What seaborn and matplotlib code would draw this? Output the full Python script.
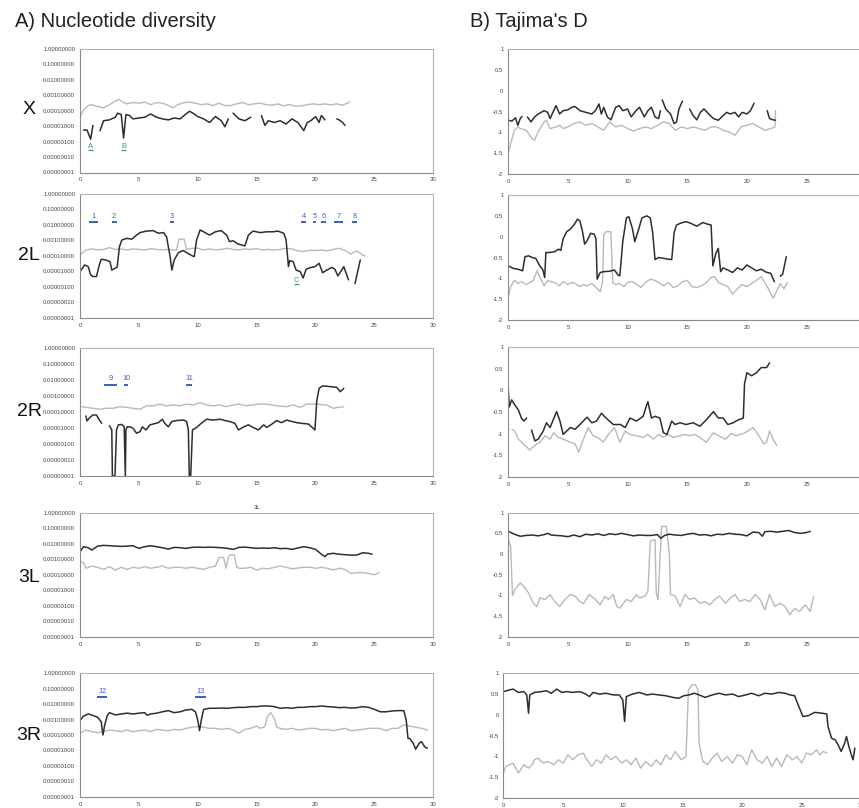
import numpy as np
import pandas as pd
import matplotlib
matplotlib.use('Agg')
import matplotlib.pyplot as plt
from matplotlib.ticker import NullLocator
import seaborn as sns

sns.set_style('white')
plt.rcParams['font.family'] = ['Liberation Sans', 'DejaVu Sans']

chroms = ['X', '2L', '2R', '3L', '3R']

#########   Nucleotide diversity (None = gap in the line) ############
# dark line
piX_dark_pos = [0.3, 0.6, 0.9, 1.1, 1.4, 1.7, 2.0, 2.5, 3.0, 3.2, 3.5, 3.7, 3.9, 4.2, 4.5, 5.0, 5.5, 6.0, 6.5, 7.0,
                7.5, 8.0, 8.5, 9.0, 9.3, 9.7, 10.0, 10.5, 11.0, 11.5, 12.0, 12.3, 12.6, 12.8, 13.0, 13.5, 14.0, 14.5,
                15.0, 15.4, 15.7, 16.0, 16.5, 17.0, 17.5, 18.0, 18.5, 19.0, 19.3, 19.6, 20.0, 20.3, 20.5, 20.8, 21.3,
                21.8, 22.0, 22.3, 22.5]
piX_dark = [5.5e-6, 5.5e-6, 1.4e-6, 1.1e-5, None, 5e-6, 2.2e-5, 2.5e-5, 3.7e-5, 6.8e-5, 5.5e-5, 1.7e-6, 5.5e-5, 4.8e-5,
            2.9e-5, 3.3e-5, 3.7e-5, 6e-5, 3.7e-5, 2.9e-5, 2.5e-5, 3.3e-5, 2.9e-5, 6e-5, 9e-5, 6e-5, 4.1e-5, 2.9e-5,
            1.7e-5, 4.1e-5, 2.2e-5, 9e-6, 2.9e-5, None, 6.8e-5, 2.9e-5, 2.2e-5, 3.7e-5, None, 4.8e-5, 1.1e-5, 2.2e-5,
            1.7e-5, 2.2e-5, 1.35e-5, 2.9e-5, 1.7e-5, 5e-6, 1.7e-5, 2.2e-5, 4.1e-5, 1.7e-5, 4.8e-5, 2.5e-5, None,
            2.9e-5, 2.5e-5, 1.7e-5, 1.1e-5]
# light line
piX_light_pos = [0, 0.3, 0.7, 1.0, 1.5, 2.0, 2.5, 3.0, 3.3, 3.6, 4.0, 4.5, 5.0, 5.5, 6.0, 6.5, 7.0, 7.5, 7.9, 8.3, 8.8,
                 9.3, 9.8, 10.3, 10.8, 11.3, 11.8, 12.3, 12.8, 13.3, 13.8, 14.3, 14.8, 15.3, 15.8, 16.3, 16.8, 17.3,
                 17.8, 18.3, 18.8, 19.3, 19.8, 20.3, 20.8, 21.3, 21.8, 22.3, 22.9]
piX_light = [3.7e-5, 1.1e-4, 2.1e-4, 2.4e-4, 1.8e-4, 1.5e-4, 2.35e-4, 4.1e-4, 5.2e-4, 3.5e-4, 2.7e-4, 3.3e-4, 3e-4,
             3.5e-4, 2.4e-4, 3.3e-4, 3e-4, 2.1e-4, 1.5e-4, 2.4e-4, 3.2e-4, 3.5e-4, 3e-4, 2.4e-4, 2.7e-4, 2.1e-4, 3e-4,
             2.1e-4, 2.1e-4, 2.7e-4, 3.3e-4, 2.4e-4, 2.7e-4, 3e-4, 2.4e-4, 2.2e-4, 2.7e-4, 2e-4, 2.4e-4, 1.9e-4,
             2e-4, 2.4e-4, 2.7e-4, 2.4e-4, 2.7e-4, 2.35e-4, 2.7e-4, 2.2e-4, 3.5e-4]

pi2L_dark_pos = [0.0, 0.4, 0.7, 0.9, 1.1, 1.4, 1.6, 1.8, 2.2, 2.55, 2.7, 2.95, 3.15, 3.35, 3.55, 3.95, 4.4, 4.8, 5.1,
                 5.65, 6.2, 6.65, 7.1, 7.35, 7.65, 7.8, 8.0, 8.35, 8.75, 9.2, 9.55, 9.7, 9.9, 10.2, 10.5, 11.0, 11.5,
                 12.0, 12.45, 12.7, 13.0, 13.4, 14.0, 14.3, 14.7, 15.3, 15.85, 16.4, 16.8, 17.3, 17.5, 17.7, 17.8,
                 18.1, 18.35, 18.7, 18.95, 19.2, 19.5, 19.95, 20.3, 20.6, 20.95, 21.4, 21.65, 21.9, 22.4, 22.8, 23.1,
                 23.35, 23.8]
pi2L_dark = [9.5e-6, 2.6e-5, 2e-5, 6e-6, 4.6e-6, 4.6e-6, 2e-5, 6e-5, 5.4e-5, 4.2e-5, 1.2e-5, 1.55e-5, 1.8e-5, 3.9e-4,
             1.05e-3, 1.35e-3, 1.2e-3, 2.2e-3, 3.2e-3, 4e-3, 4.3e-3, 2.9e-3, 3.2e-3, 1.7e-3, 8.9e-5, 1.2e-5, 5.4e-5,
             1.6e-4, 2.2e-4, 1.4e-4, 9.8e-5, 8.9e-5, 1.05e-3, 4.7e-3, 3.6e-3, 2.2e-3, 3.6e-3, 4.3e-3, 2.2e-3, 8.3e-4,
             9.5e-4, 5.9e-4, 4.4e-4, 2.2e-3, 4e-3, 3.2e-3, 3.6e-3, 3.6e-3, 4e-3, 2.9e-3, 1.05e-3, 2e-5, 4.9e-5,
             4.2e-5, 1.2e-5, 9.5e-6, 3.7e-6, 1.35e-5, 1.7e-5, 2e-5, 3.3e-5, 8.1e-6, 1.2e-5, 1.8e-5, 1.35e-5, 5e-6,
             2e-5, 2.8e-6, None, 1.6e-6, 5.4e-5]
pi2L_light_pos = [0.0, 0.5, 1.0, 1.5, 2.0, 2.5, 3.0, 3.5, 4.0, 4.5, 5.0, 5.5, 6.0, 6.5, 7.0, 7.5, 8.0, 8.2, 8.4, 8.85,
                  9.05, 9.5, 10.0, 10.5, 11.0, 11.5, 12.0, 12.5, 13.0, 13.5, 14.0, 14.5, 15.0, 15.5, 16.0, 16.5, 17.0,
                  17.5, 18.0, 18.5, 19.0, 19.5, 20.0, 20.5, 21.0, 21.5, 22.0, 22.5, 23.0, 23.5, 24.0, 24.2]
pi2L_light = [1.15e-4, 2.4e-4, 2.8e-4, 2.4e-4, 2.6e-4, 3.4e-4, 2.6e-4, 2.8e-4, 2.4e-4, 2.8e-4, 2.6e-4, 2.4e-4, 2.9e-4,
              2.6e-4, 2.4e-4, 2.6e-4, 2.4e-4, 2.4e-4, 1.2e-3, 1.2e-3, 2.6e-4, 3.1e-4, 3.1e-4, 2.4e-4, 2.8e-4, 2.4e-4,
              2.6e-4, 3.1e-4, 2.6e-4, 2.4e-4, 2.8e-4, 2.6e-4, 2.9e-4, 2.4e-4, 2.6e-4, 2.4e-4, 2.6e-4, 3.1e-4, 2.8e-4,
              2.1e-4, 1.9e-4, 2.3e-4, 2.2e-4, 2.4e-4, 2.1e-4, 2.6e-4, 3.1e-4, 2.2e-4, 1.3e-4, 2.1e-4, 1.15e-4, 9.8e-5]

pi2R_dark_pos = [0.5, 0.6, 0.85, 1.1, 1.4, 1.7, 1.85, 2.2, 2.5, 2.7, 2.75, 2.97, 3.1, 3.25, 3.55, 3.75, 3.85, 3.9, 4.0,
                 4.25, 4.5, 4.8, 5.1, 5.3, 5.6, 5.95, 6.2, 6.65, 7.0, 7.2, 7.5, 7.8, 8.2, 8.8, 9.05, 9.2, 9.28, 9.4,
                 9.55, 9.9, 10.3, 10.75, 11.3, 11.9, 12.3, 12.7, 13.15, 13.45, 13.9, 14.3, 14.7, 15.15, 15.6, 15.85,
                 16.3, 16.7, 17.1, 17.55, 18.0, 18.4, 18.8, 19.4, 19.95, 20.1, 20.3, 20.6, 21.2, 21.8, 22.1, 22.4]
pi2R_dark = [5.8e-5, 2.8e-5, 4.8e-5, 6.6e-5, 6.6e-5, 2.8e-5, 2e-5, None, 1.4e-5, 7.7e-6, 1e-8, 1e-8, 7.7e-6, 1.6e-5,
             1.7e-5, 1.2e-5, 1e-8, 7.7e-6, 1.2e-5, 1.2e-5, 9.8e-6, 4.8e-6, 6e-6, 1.2e-5, 7.7e-6, 1.6e-5, 1.8e-5,
             2.2e-5, 3.6e-5, 2e-5, 1.2e-5, 2.6e-5, 3e-5, 3.2e-5, 2.6e-5, 7.7e-6, 1e-8, 1e-8, 7.7e-6, 1.1e-5, 2e-5,
             3.6e-5, 3.2e-5, 3.6e-5, 3e-5, 2.6e-5, 2e-5, 7.7e-6, 1.2e-5, 1.6e-5, 1.1e-5, 7.7e-6, 1.6e-5, 1.1e-5,
             1.8e-5, 3e-5, 2.2e-5, 3.2e-5, 2.6e-5, 2.2e-5, 2e-5, 1.8e-5, 7.7e-6, 4.6e-4, 3.1e-3, 4.4e-3, 4e-3,
             3.6e-3, 1.9e-3, 3.1e-3]
pi2R_light_pos = [0.15, 0.55, 1.1, 1.7, 2.25, 2.8, 3.4, 3.95, 4.5, 5.1, 5.65, 6.2, 6.8, 7.35, 7.9, 8.5, 9.05, 9.6, 10.2,
                  10.75, 11.3, 11.9, 12.4, 13.0, 13.5, 14.1, 14.6, 15.2, 15.85, 16.7, 17.55, 18.1, 18.7, 19.25, 19.95,
                  20.95, 21.5, 21.9, 22.4]
pi2R_light = [2.2e-4, 2e-4, 1.75e-4, 1.5e-4, 1.75e-4, 1.75e-4, 2.2e-4, 2e-4, 1.75e-4, 1.5e-4, 2.5e-4, 2.5e-4, 3.2e-4,
              2.5e-4, 2.8e-4, 2.5e-4, 3.2e-4, 2.8e-4, 4e-4, 2.8e-4, 2.5e-4, 2.8e-4, 2.2e-4, 2.8e-4, 3.2e-4, 2.5e-4,
              2.8e-4, 3.2e-4, 3.2e-4, 2.5e-4, 2.2e-4, 2.8e-4, 2e-4, 3.2e-4, 3.2e-4, 2.8e-4, 1.75e-4, 2e-4, 2.2e-4]

pi3L_dark_pos = [0, 0.3, 0.7, 1.0, 1.5, 2.0, 2.5, 3.0, 3.5, 4.0, 4.5, 5.0, 5.5, 6.0, 6.5, 7.0, 7.5, 8.0, 8.5, 9.0, 9.5,
                 10.0, 10.5, 11.0, 11.5, 12.0, 12.5, 13.0, 13.5, 14.0, 14.5, 15.0, 15.5, 16.0, 16.5, 17.0, 17.5,
                 18.0, 18.5, 19.0, 19.5, 20.0, 20.5, 20.8, 21.0, 21.5, 22.0, 22.5, 23.0, 23.5, 24.0, 24.5, 24.8]
pi3L_dark = [3e-3, 6.4e-3, 5.5e-3, 3.9e-3, 7e-3, 7.8e-3, 7.4e-3, 7e-3, 6.7e-3, 7e-3, 7.4e-3, 5e-3, 6.4e-3, 7.4e-3,
             6.4e-3, 5.5e-3, 4.5e-3, 5.8e-3, 5.5e-3, 5e-3, 5.8e-3, 6e-3, 5.8e-3, 6e-3, 5.8e-3, 5.5e-3, 5e-3, 4.3e-3,
             5.8e-3, 6e-3, 5.5e-3, 5e-3, 5.3e-3, 5e-3, 5.5e-3, 4.8e-3, 5e-3, 4.3e-3, 5.3e-3, 6.4e-3, 5.5e-3, 4.3e-3,
             2.1e-3, 1.45e-3, 2.1e-3, 2.4e-3, 2.1e-3, 1.95e-3, 1.85e-3, 1.85e-3, 2.6e-3, 2.4e-3, 2.1e-3]
pi3L_light_pos = [0, 0.3, 0.5, 1.0, 1.5, 2.0, 2.5, 3.0, 3.5, 4.0, 4.5, 5.0, 5.5, 6.0, 6.5, 7.0, 7.5, 8.0, 8.5, 9.0,
                  9.5, 10.0, 10.5, 11.0, 11.5, 11.8, 12.2, 12.4, 12.6, 12.8, 13.1, 13.3, 13.5, 14.0, 14.5, 15.0, 15.5,
                  16.0, 16.5, 17.0, 17.5, 18.0, 18.5, 19.0, 19.5, 20.0, 20.5, 21.0, 21.5, 22.0, 22.5, 23.0, 23.5,
                  24.0, 24.5, 25.0, 25.4]
pi3L_light = [6.9e-4, 5.9e-4, 2.6e-4, 3.6e-4, 3e-4, 2.2e-4, 3.3e-4, 2e-4, 3e-4, 2.2e-4, 3e-4, 2.6e-4, 3.3e-4, 2.6e-4,
              3e-4, 3.6e-4, 2.6e-4, 3e-4, 3e-4, 2.6e-4, 3e-4, 2.6e-4, 2.2e-4, 3e-4, 3.6e-4, 1.3e-3, 1.3e-3, 2.6e-4,
              1.45e-3, 1.95e-3, 1.85e-3, 3.3e-4, 2.6e-4, 2.6e-4, 3e-4, 2e-4, 2.6e-4, 2.4e-4, 3e-4, 3.6e-4, 3e-4,
              2.4e-4, 2.7e-4, 3e-4, 3e-4, 2.6e-4, 3e-4, 2.6e-4, 2e-4, 2.6e-4, 2.2e-4, 1.2e-4, 1.35e-4, 1.35e-4,
              1.2e-4, 1e-4, 1.35e-4]

pi3R_dark_pos = [0, 0.3, 0.7, 1.0, 1.5, 1.8, 1.95, 2.1, 2.3, 2.5, 3.0, 3.5, 4.0, 4.5, 5.0, 5.5, 5.7, 6.0, 6.5, 7.0, 7.5,
                 8.0, 8.5, 9.0, 9.5, 9.8, 10.0, 10.15, 10.3, 10.5, 11.0, 11.5, 12.0, 12.5, 13.0, 13.5, 14.0, 14.5,
                 15.0, 15.5, 16.0, 16.5, 17.0, 17.5, 18.0, 18.5, 19.0, 19.5, 20.0, 20.5, 21.0, 21.5, 22.0, 22.5, 23.0,
                 23.5, 24.0, 24.5, 25.0, 25.5, 26.0, 26.5, 27.0, 27.5, 27.7, 27.85, 28.0, 28.3, 28.5, 28.8, 29.0,
                 29.3, 29.5]
pi3R_dark = [8.5e-4, 1.7e-3, 2.3e-3, 2e-3, 1.4e-3, 7.3e-4, 1e-4, 4.5e-4, 1.7e-3, 2.8e-3, 2e-3, 2.3e-3, 2.6e-3, 2.3e-3,
             2.6e-3, 2.8e-3, 1.9e-3, 2.3e-3, 2.6e-3, 3.2e-3, 3.8e-3, 2.8e-3, 3.2e-3, 4.2e-3, 4.6e-3, 3.2e-3, 9.3e-4,
             1.9e-4, 9.3e-4, 4.6e-3, 5.4e-3, 5.4e-3, 5.6e-3, 5.4e-3, 5.9e-3, 6.2e-3, 6.2e-3, 6.9e-3, 6.9e-3, 7.6e-3,
             7.6e-3, 6.9e-3, 5.4e-3, 5.9e-3, 5.4e-3, 6.2e-3, 6.2e-3, 6.9e-3, 6.9e-3, 7.6e-3, 6.9e-3, 6.6e-3, 5.9e-3,
             6.2e-3, 5.6e-3, 5.9e-3, 6.9e-3, 6.2e-3, 4.6e-3, 3.2e-3, 3.2e-3, 3.6e-3, 3.8e-3, 3.8e-3, 9.3e-4, 6e-5,
             6e-5, 2.9e-5, 1.2e-5, 2.9e-5, 3.7e-5, 1.6e-5, 1.4e-5]
pi3R_light_pos = [0, 0.5, 1.0, 1.5, 2.0, 2.5, 3.0, 3.5, 4.0, 4.5, 5.0, 5.5, 6.0, 6.5, 7.0, 7.5, 8.0, 8.5, 9.0, 9.5,
                  10.0, 10.5, 11.0, 11.5, 12.0, 12.5, 13.0, 13.5, 14.0, 14.5, 15.0, 15.3, 15.7, 15.9, 16.2, 16.5,
                  16.7, 17.0, 17.5, 18.0, 18.5, 19.0, 19.5, 20.0, 20.5, 21.0, 21.5, 22.0, 22.5, 23.0, 23.5, 24.0,
                  24.5, 25.0, 25.5, 26.0, 26.5, 27.0, 27.5, 28.0, 28.5, 29.0, 29.5]
pi3R_light = [1.3e-4, 2.1e-4, 1.65e-4, 1.4e-4, 1.65e-4, 2.1e-4, 1.9e-4, 1.65e-4, 2.1e-4, 1.65e-4, 1.9e-4, 2.1e-4,
              1.65e-4, 2.3e-4, 2.1e-4, 1.9e-4, 2.3e-4, 2.1e-4, 2.7e-4, 3.2e-4, 3.5e-4, 3.2e-4, 2.7e-4, 2.7e-4, 2.3e-4,
              2.7e-4, 2.1e-4, 1.3e-4, 2.3e-4, 2.7e-4, 3.8e-4, 2.7e-4, 3.5e-4, 1.5e-3, 2.8e-3, 1.2e-3, 3.2e-4, 2.7e-4,
              2.3e-4, 2.7e-4, 2.1e-4, 2.3e-4, 2.7e-4, 2.7e-4, 2.1e-4, 2.3e-4, 1.9e-4, 2.3e-4, 2.7e-4, 1.9e-4, 2.1e-4,
              2.3e-4, 2.7e-4, 2.7e-4, 2.7e-4, 1.9e-4, 2.7e-4, 2.7e-4, 4.5e-4, 3.8e-4, 3.2e-4, 2.7e-4, 2.1e-4]

#########   Tajima's D ############
tdX_dark_pos = [0, 0.3, 0.6, 0.8, 1.0, 1.15, 1.4, 1.6, 1.9, 2.2, 2.5, 3.0, 3.3, 3.5, 3.8, 4.0, 4.3, 4.6, 5.0, 5.3, 5.6,
                6.0, 6.5, 7.0, 7.3, 7.6, 7.8, 8.0, 8.3, 8.6, 9.0, 9.3, 9.6, 10.0, 10.3, 10.7, 11.0, 11.4, 11.7, 12.0,
                12.3, 12.6, 12.75, 12.8, 12.9, 13.2, 13.6, 13.9, 14.1, 14.3, 14.6, 14.9, 15.2, 15.5, 15.8, 16.1, 16.4,
                16.8, 17.2, 17.6, 18.0, 18.3, 18.6, 19.0, 19.3, 19.6, 20.0, 20.3, 20.6, 21.1, 21.7, 21.9, 22.2, 22.4]
tdX_dark = [-0.71, -0.73, -0.65, -0.83, -0.67, -0.62, None, -0.63, -0.75, -0.63, -0.56, -0.48, -0.52, -0.67, -0.48,
            -0.36, -0.56, -0.48, -0.46, -0.40, -0.38, -0.48, -0.52, -0.56, -0.48, -0.32, -0.56, -0.40, -0.63, -0.70,
            -0.40, -0.36, -0.48, -0.44, -0.63, -0.48, -0.40, -0.63, -0.48, -0.40, -0.63, -0.67, -0.48, None, -0.22,
            -0.44, -0.56, -0.79, -0.75, -0.44, -0.25, None, -0.44, -0.60, -0.70, -0.52, -0.44, -0.56, -0.67, -0.71,
            -0.60, -0.52, -0.56, -0.52, -0.63, -0.52, -0.56, -0.48, -0.30, None, -0.48, -0.67, -0.70, -0.71]
tdX_light_pos = [0, 0.2, 0.5, 0.8, 1.0, 1.5, 2.0, 2.2, 2.5, 3.0, 3.2, 3.5, 4.0, 4.3, 4.6, 5.0, 5.5, 6.0, 6.5, 7.0, 7.5,
                 8.0, 8.5, 9.0, 9.5, 10.0, 10.5, 11.0, 11.5, 12.0, 12.5, 13.0, 13.5, 14.0, 14.5, 15.0, 15.5, 16.0,
                 16.5, 17.0, 17.5, 18.0, 18.5, 19.0, 19.5, 20.0, 20.5, 21.0, 21.5, 22.0, 22.35, 22.4]
tdX_light = [-1.51, -1.27, -0.95, -0.87, -0.91, -0.95, -1.15, -1.19, -0.99, -0.75, -0.71, -0.91, -0.87, -0.83, -0.91,
             -0.87, -0.79, -0.75, -0.83, -0.79, -0.87, -0.95, -0.75, -0.87, -0.83, -0.91, -0.97, -0.91, -0.87, -0.91,
             -0.83, -0.75, -0.79, -0.95, -0.87, -0.91, -0.87, -0.91, -0.95, -0.87, -0.87, -0.95, -0.99, -1.07, -0.87,
             -0.83, -0.79, -0.87, -0.95, -0.91, -0.87, -0.48]

td2L_dark_pos = [0, 0.4, 0.8, 1.2, 1.4, 1.7, 2.0, 2.3, 2.6, 2.9, 3.05, 3.15, 3.5, 3.9, 4.2, 4.4, 4.6, 4.9, 5.2, 5.5,
                 5.8, 6.0, 6.2, 6.4, 6.6, 6.9, 7.2, 7.35, 7.45, 7.7, 8.0, 8.5, 8.9, 9.2, 9.35, 9.6, 9.9, 10.1, 10.4,
                 10.6, 10.9, 11.2, 11.6, 11.9, 12.1, 12.3, 12.6, 13.0, 13.4, 13.7, 13.9, 14.1, 14.5, 14.9, 15.3, 15.8,
                 16.3, 16.7, 17.0, 17.15, 17.4, 17.6, 17.8, 18.0, 18.4, 18.8, 19.2, 19.6, 20.0, 20.4, 20.8, 21.2, 21.6,
                 22.0, 22.3, 22.55, 22.8, 23.0, 23.3]
td2L_dark = [-0.70, -0.76, -0.78, -0.82, -0.48, -0.46, -0.50, -0.52, -0.68, -0.80, -0.98, -0.38, -0.38, -0.36, -0.30,
             -0.33, -0.05, 0.12, 0.18, 0.28, 0.42, 0.38, 0.15, -0.18, -0.10, 0.08, 0.06, -0.05, -1.02, -0.86, -0.84,
             -0.83, -0.80, -0.92, -0.94, -0.10, 0.45, 0.48, 0.20, -0.12, 0.15, 0.45, 0.50, 0.45, 0.10, -0.55, -0.50,
             -0.52, -0.54, -0.55, 0.10, 0.28, 0.33, 0.36, 0.32, 0.25, 0.34, 0.30, 0.28, -0.70, -0.40, -0.28, -0.84,
             -0.75, -0.80, -0.86, -0.75, -0.80, -0.68, -0.75, -0.82, -0.78, -0.85, -0.88, -1.08, None, -0.95, -0.90,
             -0.48]
td2L_light_pos = [0, 0.2, 0.5, 0.8, 1.1, 1.5, 1.8, 2.1, 2.4, 2.7, 3.0, 3.3, 3.6, 4.0, 4.3, 4.6, 5.0, 5.3, 5.6, 6.0, 6.3,
                  6.6, 7.0, 7.3, 7.7, 7.9, 8.0, 8.2, 8.6, 8.75, 9.0, 9.3, 9.7, 10.0, 10.4, 10.8, 11.1, 11.5, 11.9,
                  12.3, 12.7, 13.0, 13.4, 13.8, 14.2, 14.6, 15.0, 15.4, 15.8, 16.2, 16.6, 17.0, 17.3, 17.6, 18.0,
                  18.4, 18.8, 19.2, 19.6, 20.0, 20.4, 20.8, 21.2, 21.5, 21.9, 22.2, 22.5, 22.8, 23.1, 23.4]
td2L_light = [-1.46, -1.20, -1.05, -1.12, -1.08, -1.15, -1.10, -1.05, -0.82, -1.00, -1.18, -1.05, -1.08, -1.12, -1.18,
              -1.08, -1.15, -1.10, -1.12, -1.20, -1.15, -1.18, -1.12, -1.20, -1.32, -1.10, 0.05, 0.12, 0.12, -1.10,
              -1.15, -1.12, -1.20, -1.10, -1.08, -1.15, -1.22, -1.10, -1.02, -1.05, -1.12, -1.18, -1.10, -1.22, -1.18,
              -1.08, -1.05, -1.20, -1.22, -1.18, -1.10, -0.98, -0.96, -1.10, -1.15, -1.20, -1.38, -1.25, -1.15, -1.20,
              -1.12, -1.05, -0.96, -1.10, -1.30, -1.48, -1.30, -1.12, -1.25, -1.10]

td2R_dark_pos = [0, 0.08, 0.28, 0.56, 0.84, 1.1, 1.3, 1.54, 1.75, 1.95, 2.23, 2.5, 2.93, 3.2, 3.5, 4.05, 4.33, 4.6, 5.2,
                 5.6, 6.0, 6.6, 7.0, 7.4, 7.8, 8.2, 8.8, 9.4, 9.8, 10.2, 10.75, 11.3, 11.6, 11.7, 12.0, 12.3, 12.7,
                 13.0, 13.3, 13.7, 13.97, 14.4, 14.9, 15.5, 16.06, 16.6, 17.2, 17.6, 18.0, 18.4, 18.85, 19.3, 19.7,
                 19.8, 20.0, 20.4, 20.8, 21.2, 21.65, 21.9]
td2R_dark = [0.04, -0.38, -0.22, -0.34, -0.45, -0.64, -0.71, -0.64, None, -0.92, -1.17, -1.13, -0.94, -0.75, -0.86,
             -0.49, -0.71, -1.02, -0.86, -0.90, -0.79, -0.62, -0.75, -0.71, -0.53, -0.64, -0.79, -0.79, -0.86, -0.64,
             -0.71, -0.60, -0.34, -0.26, -0.64, -0.60, -0.64, -0.98, -1.02, -0.71, -0.79, -0.75, -0.79, -0.75, -0.83,
             -0.68, -0.49, -0.64, -0.64, -0.79, -0.75, -0.68, -0.64, 0.15, 0.41, 0.34, 0.41, 0.53, 0.53, 0.64]
td2R_light_pos = [0.3, 0.55, 0.84, 1.26, 1.8, 2.2, 2.65, 3.07, 3.5, 3.8, 4.2, 4.6, 5.2, 5.6, 5.9, 6.3, 6.7, 7.1, 7.5,
                  7.96, 8.5, 8.9, 9.36, 9.8, 10.2, 10.75, 11.3, 11.7, 12.15, 12.6, 13.0, 13.4, 13.8, 14.4, 14.8, 15.2,
                  15.6, 16.06, 16.6, 17.2, 17.6, 18.2, 18.7, 19.1, 19.7, 20.1, 20.5, 20.95, 21.4, 21.65, 21.9, 22.2,
                  22.5]
td2R_light = [-0.90, -0.94, -1.13, -1.24, -1.38, -1.28, -1.20, -1.05, -1.13, -0.98, -1.09, -1.13, -1.20, -1.24, -1.43,
              -1.13, -0.86, -1.05, -1.09, -1.20, -0.98, -0.86, -1.20, -0.94, -1.02, -1.05, -1.09, -1.02, -1.13, -1.02,
              -1.09, -1.02, -1.09, -1.05, -1.02, -1.05, -1.02, -1.09, -1.20, -0.98, -1.05, -1.13, -1.00, -1.05, -1.00,
              -0.94, -0.86, -1.02, -1.24, -1.20, -0.94, -1.13, -1.28]

td3L_dark_pos = [0, 0.5, 1.0, 1.5, 2.0, 2.5, 3.0, 3.3, 3.6, 4.0, 4.5, 5.0, 5.5, 6.0, 6.5, 7.0, 7.5, 8.0, 8.5, 9.0, 9.5,
                 10.0, 10.5, 11.0, 11.5, 12.0, 12.5, 12.8, 13.1, 13.5, 14.0, 14.5, 15.0, 15.5, 16.0, 16.5, 17.0, 17.5,
                 18.0, 18.5, 19.0, 19.5, 20.0, 20.5, 21.0, 21.3, 21.5, 22.0, 22.5, 23.0, 23.5, 24.0, 24.5, 25.0, 25.3]
td3L_dark = [0.55, 0.48, 0.43, 0.45, 0.46, 0.44, 0.47, 0.50, 0.46, 0.45, 0.44, 0.42, 0.46, 0.42, 0.48, 0.46, 0.49,
             0.45, 0.49, 0.47, 0.50, 0.47, 0.44, 0.46, 0.45, 0.45, 0.47, 0.38, 0.45, 0.48, 0.46, 0.45, 0.48, 0.50,
             0.46, 0.47, 0.44, 0.48, 0.47, 0.50, 0.48, 0.47, 0.44, 0.53, 0.52, 0.43, 0.54, 0.55, 0.53, 0.55, 0.57,
             0.52, 0.50, 0.52, 0.55]
td3L_light_pos = [0, 0.2, 0.35, 0.55, 1.0, 1.25, 1.7, 2.1, 2.4, 2.65, 3.07, 3.5, 3.9, 4.3, 4.75, 5.2, 5.6, 6.0, 6.3, 6.8,
                  7.3, 7.7, 8.1, 8.4, 8.8, 9.1, 9.36, 9.9, 10.3, 10.75, 11.0, 11.45, 11.7, 11.9, 12.3, 12.4, 12.55,
                  12.85, 13.25, 13.5, 13.6, 14.0, 14.4, 14.8, 15.2, 15.6, 16.06, 16.5, 16.9, 17.3, 17.7, 18.2, 18.6,
                  19.0, 19.4, 19.8, 20.25, 20.7, 21.1, 21.5, 21.9, 22.35, 22.8, 23.2, 23.6, 24.0, 24.4, 24.9, 25.3,
                  25.6]
td3L_light = [0.36, 0.18, -1.0, -0.86, -0.70, -0.77, -0.94, -1.19, -1.27, -1.06, -1.10, -0.98, -1.15, -1.27, -1.10,
              -0.98, -1.02, -1.15, -1.20, -0.98, -1.10, -1.23, -1.02, -1.10, -0.98, -1.27, -1.31, -1.10, -1.15, -0.98,
              -1.06, -1.02, -0.90, 0.31, 0.35, -0.94, -1.10, 0.67, 0.67, 0.0, -0.98, -1.02, -1.27, -0.98, -1.10, -1.06,
              -1.19, -1.15, -1.23, -1.10, -1.02, -1.19, -1.06, -0.98, -1.15, -1.10, -1.15, -0.98, -1.10, -1.35, -0.98,
              -1.27, -1.19, -1.27, -1.47, -1.31, -1.39, -1.23, -1.39, -1.02]

td3R_dark_pos = [0, 0.5, 0.8, 1.25, 1.7, 1.95, 2.1, 2.2, 2.6, 3.2, 3.6, 4.0, 4.45, 4.9, 5.3, 5.8, 6.4, 6.9, 7.2, 7.5,
                 8.05, 8.6, 9.2, 9.7, 10.0, 10.15, 10.3, 10.8, 11.4, 12.0, 12.5, 13.0, 13.6, 14.2, 14.7, 15.1, 15.55,
                 16.0, 16.4, 16.9, 17.5, 18.05, 18.6, 19.2, 19.7, 20.3, 20.8, 21.4, 21.9, 22.5, 23.05, 23.6, 24.0,
                 24.4, 24.7, 25.1, 25.55, 25.8, 26.1, 26.7, 27.1, 27.2, 27.5, 27.8, 28.05, 28.3, 28.6, 28.75, 28.95,
                 29.2, 29.3, 29.45]
td3R_dark = [0.56, 0.60, 0.62, 0.54, 0.56, 0.48, 0.04, 0.48, 0.54, 0.56, 0.58, 0.52, 0.62, 0.54, 0.56, 0.54, 0.56,
             0.50, 0.44, 0.54, 0.50, 0.52, 0.48, 0.48, 0.36, -0.16, 0.44, 0.50, 0.54, 0.48, 0.50, 0.48, 0.46, 0.42,
             0.40, 0.46, 0.48, 0.52, 0.48, 0.42, 0.48, 0.52, 0.48, 0.50, 0.44, 0.48, 0.52, 0.46, 0.52, 0.50, 0.54,
             0.52, 0.48, 0.46, 0.24, -0.04, -0.02, 0.02, 0.06, 0.04, 0.02, -0.28, -0.56, -0.60, -0.72, -0.88, -0.68,
             -0.52, -0.76, -1.0, -1.08, -0.80]
td3R_light_pos = [0, 0.2, 0.5, 0.8, 1.25, 1.7, 2.1, 2.4, 2.6, 2.9, 3.3, 3.75, 4.2, 4.6, 5.0, 5.4, 5.8, 6.25, 6.7, 6.9,
                  7.4, 7.8, 8.2, 8.6, 9.0, 9.4, 9.9, 10.3, 10.7, 11.1, 11.5, 11.9, 12.4, 12.8, 13.2, 13.6, 14.0, 14.4,
                  14.9, 15.3, 15.5, 15.8, 16.1, 16.3, 16.4, 16.7, 17.1, 17.5, 17.9, 18.3, 18.75, 19.2, 19.6, 20.0,
                  20.4, 20.8, 21.25, 21.7, 22.1, 22.5, 22.9, 23.3, 23.75, 24.2, 24.6, 25.0, 25.4, 25.8, 26.25, 26.5,
                  26.8, 27.1]
td3R_light = [-1.40, -1.24, -1.20, -1.16, -1.40, -1.20, -1.28, -1.20, -1.08, -1.04, -1.16, -1.12, -1.20, -1.08, -1.16,
              -0.96, -1.08, -0.96, -0.92, -1.04, -1.24, -1.08, -1.16, -0.96, -1.08, -1.00, -1.16, -1.08, -1.20, -1.04,
              -1.28, -1.12, -1.24, -1.08, -1.20, -0.96, -1.08, -0.88, -1.08, -1.00, 0.60, 0.72, 0.72, 0.60, -0.68,
              -1.12, -1.20, -1.04, -0.92, -1.12, -1.00, -1.16, -0.96, -1.00, -1.20, -0.84, -1.08, -1.16, -1.00, -1.24,
              -1.04, -1.24, -0.96, -1.08, -1.00, -1.16, -0.92, -0.96, -0.84, -0.96, -0.88, -0.92]

# region marks (blue numbers with bars) and green letters on the diversity panels
region_names = {'2L': ['1', '2', '3', '4', '5', '6', '7', '8'], '2R': ['9', '10', '11'], '3R': ['12', '13']}
region_start = {'2L': [0.8, 2.7, 7.65, 18.75, 19.75, 20.45, 21.6, 23.1], '2R': [2.07, 3.75, 9.0], '3R': [1.47, 9.8]}
region_end = {'2L': [1.55, 3.1, 8.0, 19.2, 20.05, 20.9, 22.3, 23.5], '2R': [3.1, 4.1, 9.55], '3R': [2.3, 10.7]}
letter_names = {'X': ['A', 'B'], '2L': ['C']}
letter_pos = {'X': [0.9, 3.7], '2L': [18.4]}

pi_pos = {'X': (piX_dark_pos, piX_light_pos), '2L': (pi2L_dark_pos, pi2L_light_pos),
          '2R': (pi2R_dark_pos, pi2R_light_pos), '3L': (pi3L_dark_pos, pi3L_light_pos),
          '3R': (pi3R_dark_pos, pi3R_light_pos)}
pi_val = {'X': (piX_dark, piX_light), '2L': (pi2L_dark, pi2L_light), '2R': (pi2R_dark, pi2R_light),
          '3L': (pi3L_dark, pi3L_light), '3R': (pi3R_dark, pi3R_light)}
td_pos = {'X': (tdX_dark_pos, tdX_light_pos), '2L': (td2L_dark_pos, td2L_light_pos),
          '2R': (td2R_dark_pos, td2R_light_pos), '3L': (td3L_dark_pos, td3L_light_pos),
          '3R': (td3R_dark_pos, td3R_light_pos)}
td_val = {'X': (tdX_dark, tdX_light), '2L': (td2L_dark, td2L_light), '2R': (td2R_dark, td2R_light),
          '3L': (td3L_dark, td3L_light), '3R': (td3R_dark, td3R_light)}


def segments(pos, val):
    df = pd.DataFrame({'pos': pos, 'val': pd.array(val, dtype='Float64')}).astype(float)
    df['seg'] = df['val'].isna().cumsum()
    return df.dropna()


dark = '#2e2e2e'
light = '#b9b9b9'
blue = '#3d5fc4'
green = '#3f9a55'

W, H = 859, 808
fig = plt.figure(figsize=(W / 100, H / 100), dpi=100)

# plot-area pixel boxes (top, bottom) per row
left_rows = [(48.6, 172.5), (194, 317.7), (348.3, 476), (512.7, 636.7), (673.3, 796.7)]
right_rows = [(49, 174), (195, 320), (347.3, 476.7), (512.7, 636.7), (673.3, 798)]
right_x0 = [508.3, 508.3, 508.3, 508.3, 503.5]
label_y = [109, 256, 412, 577, 735]


def style_axis(ax):
    for side in ['left', 'bottom']:
        ax.spines[side].set_color('#8a8a8a')
        ax.spines[side].set_linewidth(0.8)
    for side in ['top', 'right']:
        ax.spines[side].set_color('#b4b4b4')
        ax.spines[side].set_linewidth(0.8)
    ax.tick_params(axis='both', which='major', labelsize=4.3, length=2, width=0.5, color='#8a8a8a',
                   labelcolor='#444444', pad=1.5, direction='out')
    ax.set_xlabel('')
    ax.set_ylabel('')
    ax.set_xlim(0, 30)
    ax.set_xticks([0, 5, 10, 15, 20, 25, 30])


for i, chrom in enumerate(chroms):
    # ---- A) nucleotide diversity
    top, bot = left_rows[i]
    axl = fig.add_axes([80 / W, 1 - bot / H, (433.3 - 80) / W, (bot - top) / H])
    d_pos, l_pos = pi_pos[chrom]
    d_val, l_val = pi_val[chrom]
    sns.lineplot(data=segments(l_pos, l_val), x='pos', y='val', units='seg', estimator=None, sort=False,
                 color=light, lw=1.0, ax=axl, legend=False)
    sns.lineplot(data=segments(d_pos, d_val), x='pos', y='val', units='seg', estimator=None, sort=False,
                 color=dark, lw=1.1, ax=axl, legend=False)
    axl.set_yscale('log')
    axl.set_ylim(1e-8, 1)
    yt = [1, 0.1, 0.01, 0.001, 0.0001, 0.00001, 0.000001, 0.0000001, 0.00000001]
    axl.set_yticks(yt)
    axl.set_yticklabels([f'{v:.8f}' for v in yt])
    axl.yaxis.set_minor_locator(NullLocator())
    style_axis(axl)

    if chrom in region_names:
        ty = {'2L': 0.034, '2R': 0.012, '3R': 0.065}[chrom]
        by = {'2L': 0.016, '2R': 0.005, '3R': 0.031}[chrom]
        for name, s, e in zip(region_names[chrom], region_start[chrom], region_end[chrom]):
            axl.hlines(by, s, e, color=blue, lw=1.4)
            axl.text((s + e) / 2, ty, name, color=blue, fontsize=5.3, ha='center', va='center')
    if chrom in letter_names:
        ty = {'X': 5.1e-7, '2L': 2.4e-6}[chrom]
        by = {'X': 3.0e-7, '2L': 1.5e-6}[chrom]
        for name, p in zip(letter_names[chrom], letter_pos[chrom]):
            axl.text(p, ty, name, color=green, fontsize=5.3, ha='center', va='center')
            axl.hlines(by, p - 0.2, p + 0.2, color=green, lw=0.9)
    if chrom == '3L':
        axl.set_title('3L', fontsize=4.2, pad=3, color='#333333')

    fig.text(29 / W, 1 - label_y[i] / H, chrom, fontsize=14, ha='center', va='center', color='#111111')

    # ---- B) Tajima's D
    top, bot = right_rows[i]
    x0 = right_x0[i]
    axr = fig.add_axes([x0 / W, 1 - bot / H, 30 * 11.93 / W, (bot - top) / H])
    d_pos, l_pos = td_pos[chrom]
    d_val, l_val = td_val[chrom]
    sns.lineplot(data=segments(l_pos, l_val), x='pos', y='val', units='seg', estimator=None, sort=False,
                 color=light, lw=1.0, ax=axr, legend=False)
    sns.lineplot(data=segments(d_pos, d_val), x='pos', y='val', units='seg', estimator=None, sort=False,
                 color=dark, lw=1.1, ax=axr, legend=False)
    axr.set_ylim(-2, 1)
    axr.set_yticks([1, 0.5, 0, -0.5, -1, -1.5, -2])
    axr.set_yticklabels(['1', '0.5', '0', '-0.5', '-1', '-1.5', '-2'])
    style_axis(axr)

fig.text(15 / W, 1 - 27 / H, 'A) Nucleotide diversity', fontsize=14.5, ha='left', va='baseline', color='#222222')
fig.text(470 / W, 1 - 27 / H, "B) Tajima's D", fontsize=14.5, ha='left', va='baseline', color='#222222')

fig.savefig('out.png', dpi=100, facecolor='white')
